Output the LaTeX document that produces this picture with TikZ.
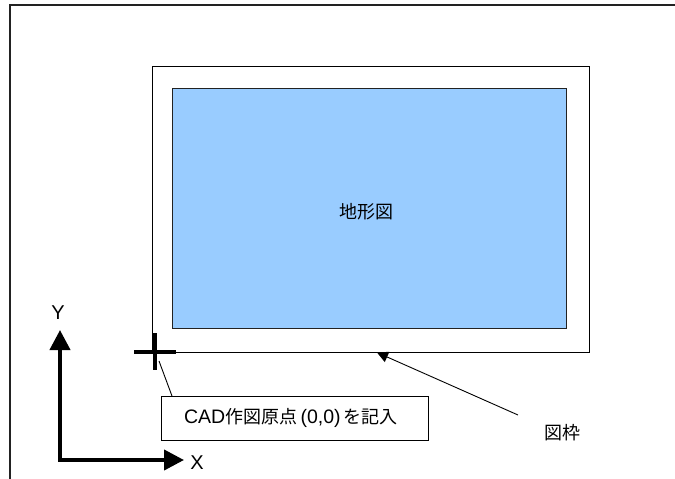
\documentclass[tikz,border=0pt]{standalone}
\usepackage{fontspec}
\setmainfont{Liberation Sans}
\newfontfamily\jp{Noto Sans CJK JP}
\usetikzlibrary{arrows.meta}
\definecolor{mapblue}{HTML}{99CCFF}
\definecolor{edge}{HTML}{222222}
\tikzset{
  thinline/.style={draw=edge,line width=0.9pt},
  axisline/.style={line width=4pt,-{Triangle[length=20pt,width=20pt]}},
  lbl/.style={inner sep=0pt,font=\fontsize{18}{20}\selectfont},
  axlbl/.style={inner sep=0pt,font=\fontsize{20}{22}\selectfont},
}
\newcommand{\lat}[1]{{\fontsize{19.5}{20}\selectfont #1}}
\begin{document}
\begin{tikzpicture}[x=1pt,y=-1pt]
\useasboundingbox (0,0) rectangle (675,479);
\fill[white] (0,0) rectangle (675,479);
% outer sheet border
\draw[draw=edge,line width=1.4pt] (10,482) -- (10,5) -- (678,5);
% drawing frame
\node[thinline,draw=black,minimum width=437pt,minimum height=286pt,inner sep=0pt] (frame) at (370.5,209) {};
% map area
\node[draw=edge,line width=0.7pt,fill=mapblue,minimum width=394pt,minimum height=240pt,inner sep=0pt] (map) at (369,208) {};
\node[lbl] (maplbl) at (366,212) {\jp 地形図};
% origin cross
\draw[line width=4pt] (134,352) -- (176,352);
\draw[line width=4pt] (155,333) -- (155,370);
% callout box
\node[thinline,draw=black,minimum width=267pt,minimum height=44pt,inner sep=0pt] (cad) at (294.5,418) {};
\node[lbl] (cadtxt) at (291,418) {\lat{CAD}{\jp 作図原点}\lat{\,(0,0)\,}{\jp を記入}};
\coordinate (cfoot) at (172,396);
\coordinate (ctop) at (159,361);
\draw[line width=0.9pt] (ctop) -- (cfoot);
% axes
\coordinate (o) at (60,460);
\coordinate (ytip) at (60,330);
\coordinate (xtip) at (184,460);
\draw[axisline] (o) -- (ytip);
\draw[axisline] ([xshift=-2pt]o) -- (xtip);
\node[axlbl] (ylbl) at (58,313) {Y};
\node[axlbl] (xlbl) at (197,463) {X};
% frame label
\node[lbl] (waku) at (562,433) {\jp 図枠};
\coordinate (wstart) at (518,415);
\coordinate (wend) at (377,352.5);
\draw[line width=0.9pt,-{Triangle[length=11pt,width=11pt]}] (wstart) -- (wend);
\end{tikzpicture}
\end{document}
